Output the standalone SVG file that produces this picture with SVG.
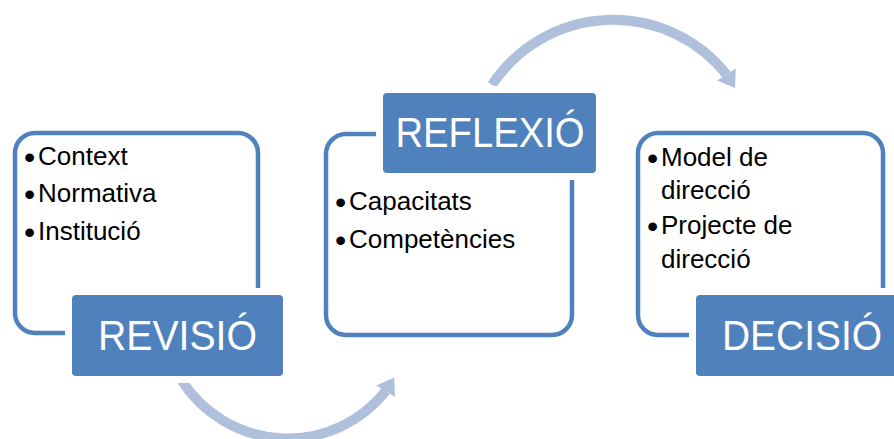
<svg xmlns="http://www.w3.org/2000/svg" width="894" height="439" viewBox="0 0 894 439">
  <style>
    .outline { fill: none; stroke: #4F81BD; stroke-width: 4.5; }
    .gap { fill: #FFFFFF; stroke: none; }
    .label { fill: #4F81BD; stroke: none; }
    .ltext { font-family: "Liberation Sans", Arial, sans-serif; font-size: 42px; fill: #FFFFFF; text-anchor: middle; }
    .btext { font-family: "Liberation Sans", Arial, sans-serif; font-size: 26px; fill: #000000; }
    .dot { font-size: 32px; }
    .band { fill: none; stroke: #AFC0DC; stroke-width: 10; stroke-linecap: butt; }
    .head { fill: #AFC0DC; stroke: none; }
  </style>
  <rect width="894" height="439" fill="#FFFFFF"/>

  <g id="connectors">
    <path class="band" d="M 181.8 380.5 A 125.5 125.5 0 0 0 385.7 391.2"/>
    <polygon class="head" points="394.1,377.5 395.1,396.9 376.3,385.5"/>
    <path class="band" d="M 492 85 A 145 145 0 0 1 726.5 74.5"/>
    <polygon class="head" points="735,88 735.8,68.6 717.2,80.4"/>
  </g>

  <g id="node-revisio">
    <rect class="outline" x="15" y="133" width="243" height="200" rx="20" ry="20"/>
    <rect class="gap" x="65" y="288" width="225" height="95"/>
    <rect class="label" x="72" y="295" width="211" height="81" rx="4" ry="4"/>
    <text class="ltext" x="177.5" y="350" textLength="159" lengthAdjust="spacingAndGlyphs">REVISIÓ</text>
    <text class="btext" y="165"><tspan class="dot" x="24" dy="3">•</tspan><tspan x="38" dy="-3">Context</tspan></text>
    <text class="btext" y="202"><tspan class="dot" x="24" dy="3">•</tspan><tspan x="38" dy="-3">Normativa</tspan></text>
    <text class="btext" y="240"><tspan class="dot" x="24" dy="3">•</tspan><tspan x="38" dy="-3">Institució</tspan></text>
  </g>

  <g id="node-reflexio">
    <rect class="outline" x="326" y="134" width="246" height="201" rx="20" ry="20"/>
    <rect class="gap" x="376" y="86" width="227" height="94"/>
    <rect class="label" x="383" y="93" width="213" height="80" rx="4" ry="4"/>
    <text class="ltext" x="490" y="147" textLength="189" lengthAdjust="spacingAndGlyphs">REFLEXIÓ</text>
    <text class="btext" y="210"><tspan class="dot" x="335" dy="3">•</tspan><tspan x="349" dy="-3">Capacitats</tspan></text>
    <text class="btext" y="248"><tspan class="dot" x="335" dy="3">•</tspan><tspan x="349" dy="-3">Competències</tspan></text>
  </g>

  <g id="node-decisio">
    <rect class="outline" x="638" y="133" width="245" height="202" rx="20" ry="20"/>
    <rect class="gap" x="689" y="288" width="226" height="95"/>
    <rect class="label" x="696" y="295" width="212" height="81" rx="4" ry="4"/>
    <text class="ltext" x="802" y="350" textLength="160" lengthAdjust="spacingAndGlyphs">DECISIÓ</text>
    <text class="btext" y="166"><tspan class="dot" x="647" dy="3">•</tspan><tspan x="661" dy="-3">Model de</tspan></text>
    <text class="btext" y="199"><tspan x="661">direcció</tspan></text>
    <text class="btext" y="234"><tspan class="dot" x="647" dy="3">•</tspan><tspan x="661" dy="-3">Projecte de</tspan></text>
    <text class="btext" y="268"><tspan x="661">direcció</tspan></text>
  </g>
</svg>
